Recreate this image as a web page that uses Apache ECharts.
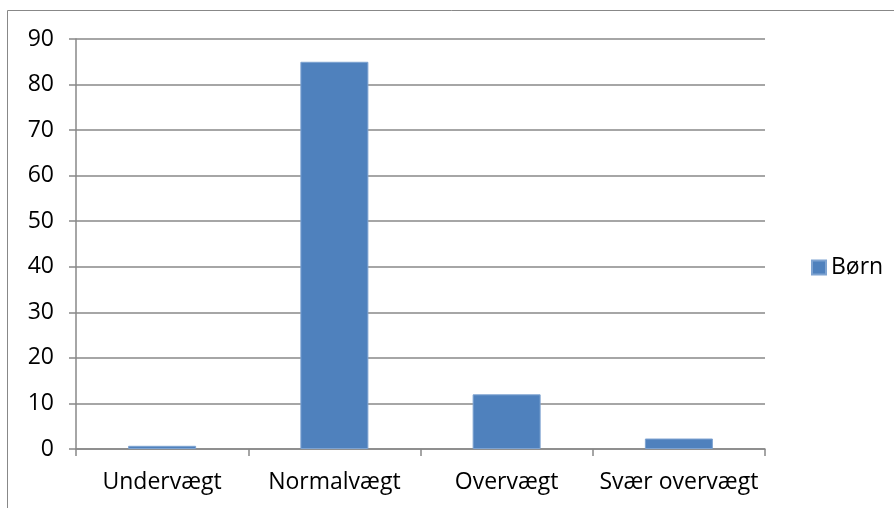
<!DOCTYPE html>
<html><head><meta charset="utf-8">
<script src="https://cdn.jsdelivr.net/npm/echarts@6/dist/echarts.min.js"></script>
<style>html,body{margin:0;padding:0;background:#fff}#c{width:894px;height:508px}</style>
</head><body><div id="c"></div>
<script>
const categories = ['Undervægt', 'Normalvægt', 'Overvægt', 'Svær overvægt'];
const seriesName = 'Børn';
const values = [0.7, 85, 12, 2.3];
const yMin = 0, yMax = 90, yStep = 10;

const chart = echarts.init(document.getElementById('c'), null, {renderer: 'canvas'});
const font = '"Open Sans", "Noto Sans", sans-serif';
const fs = 23;
chart.setOption({
  animation: false,
  backgroundColor: '#fff',
  graphic: [{type: 'rect', shape: {x: 7.5, y: 10.5, width: 900, height: 520}, style: {fill: 'none', stroke: '#888', lineWidth: 1}}],
  grid: {left: 76, right: 129, top: 39, bottom: 59, containLabel: false},
  legend: {
    data: [seriesName], orient: 'vertical', left: 806, top: 251,
    itemWidth: 14, itemHeight: 14, icon: 'rect', itemGap: 6,
    textStyle: {fontFamily: font, fontSize: fs, color: '#000'}
  },
  xAxis: {
    type: 'category', data: categories,
    axisLine: {lineStyle: {color: '#888', width: 1.5}},
    axisTick: {show: true, length: 7, lineStyle: {color: '#888', width: 1.5}},
    axisLabel: {fontFamily: font, fontSize: fs, color: '#000', margin: 22, interval: 0, hideOverlap: false}
  },
  yAxis: {
    type: 'value', min: yMin, max: yMax, interval: yStep,
    axisLine: {show: true, lineStyle: {color: '#888', width: 1.5}},
    axisTick: {show: true, length: 7, lineStyle: {color: '#888', width: 1.5}},
    splitLine: {lineStyle: {color: '#888', width: 1.5}},
    axisLabel: {fontFamily: font, fontSize: fs, color: '#000', margin: 22}
  },
  series: [{
    name: seriesName, type: 'bar', data: values, barWidth: 68,
    itemStyle: {color: '#4f81bd', borderColor: '#7ea3d1', borderWidth: 1}
  }]
});
</script></body></html>
